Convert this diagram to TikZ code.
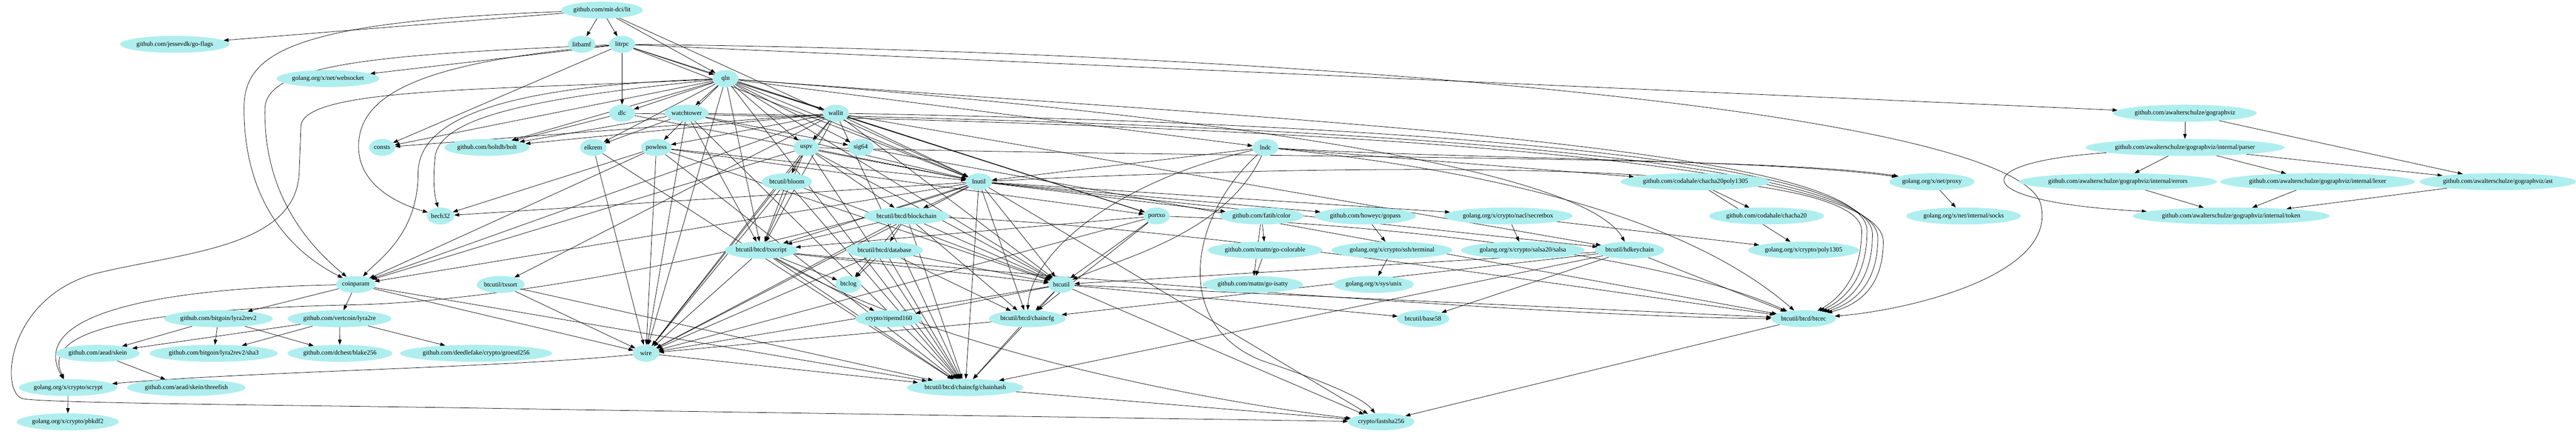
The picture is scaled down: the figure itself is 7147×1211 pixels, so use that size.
\documentclass[tikz,border=0pt]{standalone}
\usepackage{fontspec}
\setmainfont{Liberation Serif}
\usetikzlibrary{shapes.geometric,arrows.meta}
\definecolor{pale}{HTML}{AFEEEE}
\pgfdeclarelayer{edges}
\pgfsetlayers{edges,main}
\begin{document}
\begin{tikzpicture}[x=1pt,y=-1pt,
  pkg/.style={ellipse, fill=pale, draw=none, inner xsep=1pt, inner ysep=0pt,
    minimum height=47pt, minimum width=72pt, font=\fontsize{18}{20}\selectfont},
  dep/.style={-{Triangle[length=14pt,width=10pt]}, line width=1.1pt, draw=black}]
\useasboundingbox (0,0) rectangle (7147,1211);
% row 0
\node[pkg] (lit) at (1670,28) {github.com/mit-dci/lit};
% row 1
\node[pkg] (flags) at (485,123) {github.com/jessevdk/go-flags};
\node[pkg] (bamf) at (1614,123) {litbamf};
\node[pkg] (rpc) at (1726,123) {litrpc};
% row 2
\node[pkg] (ws) at (910,218) {golang.org/x/net/websocket};
\node[pkg] (qln) at (2013,218) {qln};
% row 3
\node[pkg] (dlc) at (1726,314) {dlc};
\node[pkg] (wt) at (1905,314) {watchtower};
\node[pkg] (wallit) at (2319,314) {wallit};
\node[pkg] (gv) at (6062,314) {github.com/awalterschulze/gographviz};
% row 4
\node[pkg] (consts) at (1060,409) {consts};
\node[pkg] (bolt) at (1351,409) {github.com/boltdb/bolt};
\node[pkg] (elkrem) at (1646,409) {elkrem};
\node[pkg] (powless) at (1821,409) {powless};
\node[pkg] (uspv) at (2237,409) {uspv};
\node[pkg] (sig64) at (2388,409) {sig64};
\node[pkg] (lndc) at (3511,409) {lndc};
\node[pkg] (parser) at (6062,409) {github.com/awalterschulze/gographviz/internal/parser};
% row 5
\node[pkg] (bloom) at (2183,504) {btcutil/bloom};
\node[pkg] (lnutil) at (2716,504) {lnutil};
\node[pkg] (ccp) at (4704,504) {github.com/codahale/chacha20poly1305};
\node[pkg] (proxy) at (5360,504) {golang.org/x/net/proxy};
\node[pkg] (errors) at (5876,504) {github.com/awalterschulze/gographviz/internal/errors};
\node[pkg] (lexer) at (6430,504) {github.com/awalterschulze/gographviz/internal/lexer};
\node[pkg] (ast) at (6930,504) {github.com/awalterschulze/gographviz/ast};
% row 6
\node[pkg] (bech32) at (1222,599) {bech32};
\node[pkg] (blockchain) at (2515,599) {btcutil/btcd/blockchain};
\node[pkg] (portxo) at (3209,599) {portxo};
\node[pkg] (color) at (3500,599) {github.com/fatih/color};
\node[pkg] (gopass) at (3788,599) {github.com/howeyc/gopass};
\node[pkg] (secretbox) at (4184,599) {golang.org/x/crypto/nacl/secretbox};
\node[pkg] (chacha) at (4901,599) {github.com/codahale/chacha20};
\node[pkg] (socks) at (5448,599) {golang.org/x/net/internal/socks};
\node[pkg] (token) at (6190,599) {github.com/awalterschulze/gographviz/internal/token};
% row 7
\node[pkg] (txscript) at (2112,694) {btcutil/btcd/txscript};
\node[pkg] (database) at (2454,694) {btcutil/btcd/database};
\node[pkg] (colorable) at (3510,694) {github.com/mattn/go-colorable};
\node[pkg] (terminal) at (3862,694) {golang.org/x/crypto/ssh/terminal};
\node[pkg] (salsa) at (4225,694) {golang.org/x/crypto/salsa20/salsa};
\node[pkg] (hdkey) at (4521,694) {btcutil/hdkeychain};
\node[pkg] (poly) at (5004,694) {golang.org/x/crypto/poly1305};
% row 8
\node[pkg] (coinparam) at (987,789) {coinparam};
\node[pkg] (txsort) at (1389,789) {btcutil/txsort};
\node[pkg] (btclog) at (2354,789) {btclog};
\node[pkg] (btcutil) at (2945,789) {btcutil};
\node[pkg] (isatty) at (3476,789) {github.com/mattn/go-isatty};
\node[pkg] (unix) at (3811,789) {golang.org/x/sys/unix};
% row 9
\node[pkg] (lyratwo) at (606,884) {github.com/bitgoin/lyra2rev2};
\node[pkg] (lyra) at (942,884) {github.com/vertcoin/lyra2re};
\node[pkg] (ripemd) at (2466,884) {crypto/ripemd160};
\node[pkg] (chaincfg) at (2850,884) {btcutil/btcd/chaincfg};
\node[pkg] (base58) at (3948,884) {btcutil/base58};
\node[pkg] (btcec) at (5004,884) {btcutil/btcd/btcec};
% row 10
\node[pkg] (skein) at (271,980) {github.com/aead/skein};
\node[pkg] (sha3) at (593,980) {github.com/bitgoin/lyra2rev2/sha3};
\node[pkg] (blake) at (943,980) {github.com/dchest/blake256};
\node[pkg] (groestl) at (1321,980) {github.com/deedlefake/crypto/groestl256};
\node[pkg] (wire) at (1792,980) {wire};
% row 11
\node[pkg] (scrypt) at (189,1075) {golang.org/x/crypto/scrypt};
\node[pkg] (threefish) at (517,1075) {github.com/aead/skein/threefish};
\node[pkg] (chainhash) at (2678,1075) {btcutil/btcd/chaincfg/chainhash};
% row 12
\node[pkg] (pbkdf) at (188,1170) {golang.org/x/crypto/pbkdf2};
\node[pkg] (fastsha) at (3832,1170) {crypto/fastsha256};

\begin{pgfonlayer}{edges}
% straight edges
\foreach \a/\b in {lit/flags, lit/bamf, lit/rpc, lit/qln, lit/lnutil,
  rpc/ws, rpc/consts, rpc/qln, rpc/dlc, rpc/lnutil, rpc/portxo, rpc/gv,
  qln/consts, qln/bolt, qln/dlc, qln/wt, qln/wallit, qln/elkrem, qln/uspv, qln/sig64,
  qln/lnutil, qln/lndc, qln/portxo, qln/btcutil, qln/txscript, qln/wire, qln/chainhash, qln/powless,
  wallit/bolt, wallit/powless, wallit/uspv, wallit/txscript, wallit/wire, wallit/lnutil,
  wallit/portxo, wallit/btcutil, wallit/chainhash, wallit/hdkey, wallit/consts, wallit/txsort, wallit/coinparam,
  wt/bolt, wt/elkrem, wt/wire, wt/txscript, wt/lnutil, wt/sig64, wt/chainhash,
  dlc/bolt, dlc/lnutil,
  elkrem/chainhash, elkrem/wire,
  powless/bech32, powless/wire, powless/lnutil, powless/btcutil, powless/chainhash, powless/portxo, powless/coinparam,
  uspv/bloom, uspv/txscript, uspv/wire, uspv/chainhash, uspv/btcutil, uspv/lnutil, uspv/blockchain, uspv/coinparam,
  sig64/btcec,
  lndc/lnutil, lndc/ccp,
  bloom/txscript, bloom/wire, bloom/chainhash, bloom/btcutil,
  lnutil/blockchain, lnutil/chainhash, lnutil/btcutil, lnutil/color, lnutil/bech32, lnutil/wire,
  lnutil/txscript, lnutil/gopass, lnutil/secretbox, lnutil/hdkey, lnutil/fastsha, lnutil/chaincfg, lnutil/coinparam,
  portxo/wire, portxo/btcutil, portxo/chaincfg, portxo/txscript,
  blockchain/database, blockchain/chainhash, blockchain/btcutil, blockchain/txscript,
  blockchain/wire, blockchain/chaincfg, blockchain/btclog,
  database/btcutil, database/chainhash, database/wire, database/btclog, database/chaincfg,
  txscript/wire, txscript/chainhash, txscript/btclog, txscript/ripemd, txscript/btcutil,
  txsort/wire, txsort/chainhash,
  hdkey/base58, hdkey/btcutil, hdkey/chaincfg, hdkey/btcec, hdkey/chainhash,
  btcutil/ripemd, btcutil/chaincfg, btcutil/chainhash, btcutil/base58, btcutil/btcec, btcutil/wire, btcutil/fastsha,
  chaincfg/chainhash, chaincfg/wire, chainhash/fastsha, wire/chainhash, btcec/fastsha,
  coinparam/lyratwo, coinparam/lyra, coinparam/wire, coinparam/chainhash,
  lyratwo/skein, lyratwo/sha3, lyratwo/blake, lyra/skein, lyra/sha3, lyra/blake, lyra/groestl,
  skein/threefish, scrypt/pbkdf,
  color/colorable, color/isatty, colorable/isatty,
  gopass/terminal, terminal/unix,
  secretbox/salsa, secretbox/poly,
  ccp/chacha, ccp/poly,
  proxy/socks,
  gv/parser, gv/ast, parser/errors, parser/lexer, parser/ast, errors/token, lexer/token, ast/token}
  \draw[dep] (\a) -- (\b);

% curved edges
\draw[dep] (lit) .. controls (800,60) and (677,150) .. (677,300) .. controls (677,600) and (850,720) .. (coinparam);
\draw[dep] (rpc) .. controls (1100,150) and (740,170) .. (735,300) .. controls (730,560) and (880,700) .. (coinparam);
\draw[dep] (rpc) .. controls (1200,170) and (1000,250) .. (995,400) .. controls (990,520) and (1120,570) .. (bech32);
\draw[dep] (qln) .. controls (1500,235) and (1160,300) .. (1160,480) .. controls (1160,650) and (1050,720) .. (coinparam);
\draw[dep] (qln) .. controls (1500,270) and (1230,320) .. (1208,430) .. controls (1200,500) and (1205,540) .. (bech32);
\draw[dep] (qln) .. controls (1400,250) and (840,240) .. (835,350) -- (830,480) .. controls (820,690) and (500,700) .. (260,760) .. controls (20,830) and (0,1080) .. (60,1105) .. controls (100,1120) and (1000,1125) .. (1500,1135) -- (fastsha);
\draw[dep] (qln) .. controls (3500,330) and (4400,480) .. (hdkey);
\draw[dep] (rpc) .. controls (3500,140) and (5550,300) .. (5660,560) .. controls (5720,760) and (5300,860) .. (btcec);
\draw[dep] (qln) .. controls (3500,330) and (5180,400) .. (5180,640) .. controls (5180,780) and (5110,835) .. (btcec);
\draw[dep] (wallit) .. controls (3500,335) and (5195,410) .. (5195,650) .. controls (5195,790) and (5120,840) .. (btcec);
\draw[dep] (wt) .. controls (3500,340) and (5210,420) .. (5210,660) .. controls (5210,800) and (5130,845) .. (btcec);
\draw[dep] (dlc) .. controls (3500,345) and (5225,430) .. (5225,670) .. controls (5225,810) and (5140,850) .. (btcec);
\draw[dep] (lnutil) .. controls (3800,450) and (5165,440) .. (5165,640) .. controls (5165,770) and (5100,830) .. (btcec);
\draw[dep] (lndc) .. controls (3300,600) and (3250,900) .. (3500,1000) .. controls (3650,1050) and (3780,1100) .. (fastsha);
\draw[dep] (lndc) .. controls (3100,500) and (2860,700) .. (chaincfg);
\draw[dep] (lndc) .. controls (3400,650) and (3100,720) .. (btcutil);
\draw[dep] (lndc) .. controls (4000,440) and (4900,440) .. (proxy);
\draw[dep] (lndc) .. controls (4200,480) and (4700,620) .. (btcec);
\draw[dep] (uspv) .. controls (3500,440) and (4900,430) .. (proxy);
\draw[dep] (blockchain) .. controls (3300,630) and (4400,800) .. (btcec);
\draw[dep] (portxo) .. controls (3800,620) and (4600,700) .. (btcec);
\draw[dep] (txscript) .. controls (2800,760) and (4300,880) .. (btcec);
\draw[dep] (txscript) .. controls (2600,980) and (3400,1120) .. (fastsha);
\draw[dep] (lnutil) .. controls (2300,650) and (1500,830) .. (1000,845) .. controls (300,860) and (120,930) .. (scrypt);
\draw[dep] (coinparam) .. controls (400,800) and (80,880) .. (scrypt);
\draw[dep] (wire) .. controls (1400,1020) and (700,1030) .. (scrypt);
\draw[dep] (parser) .. controls (5450,450) and (5450,560) .. (token);
\end{pgfonlayer}
\end{tikzpicture}
\end{document}
